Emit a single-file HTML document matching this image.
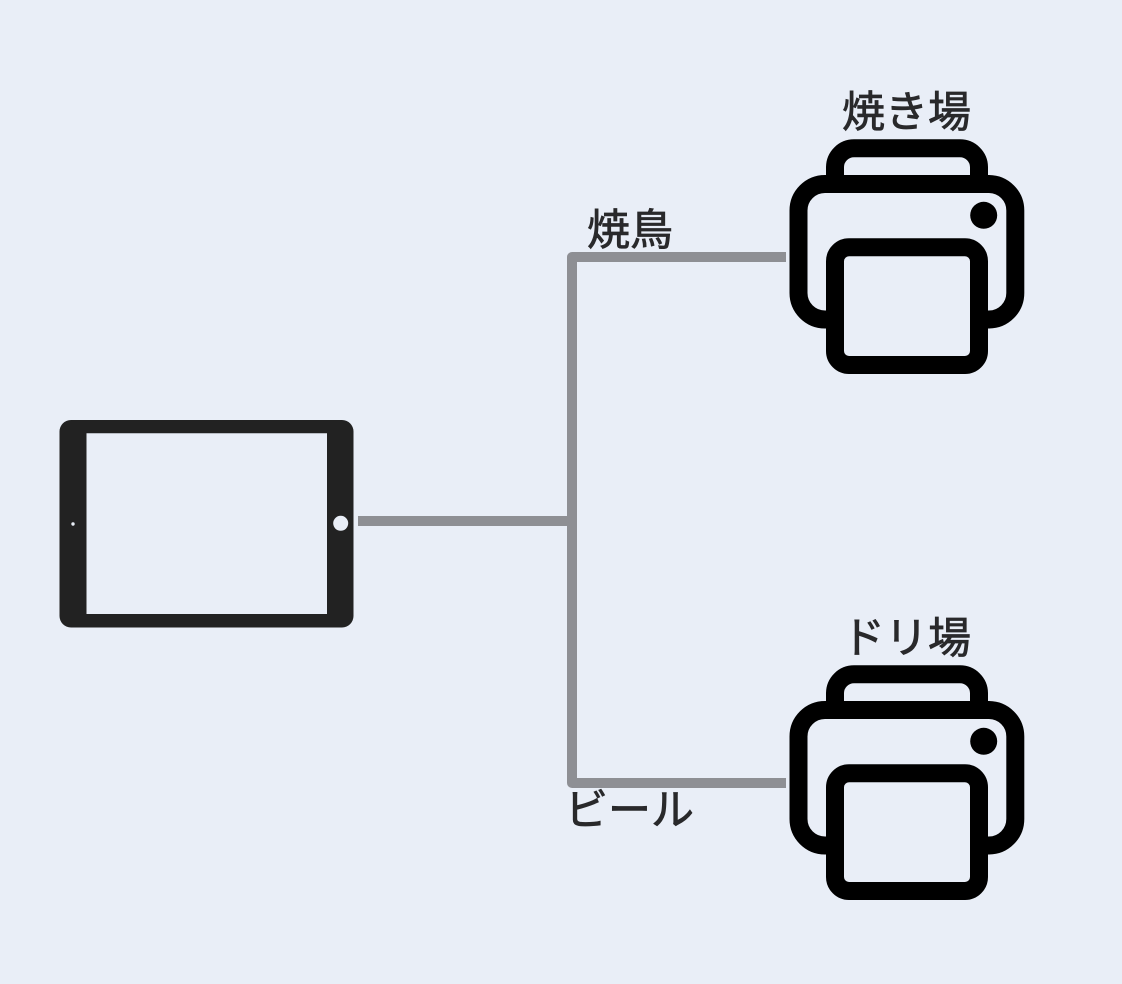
<!DOCTYPE html>
<html>
<head>
<meta charset="utf-8">
<style>
html,body{margin:0;padding:0;background:#e9eef7;}
svg{display:block;}
text{font-family:"Liberation Sans","Noto Sans CJK JP",sans-serif;font-size:43px;fill:#29292b;stroke:#29292b;stroke-width:0.8px;}
</style>
</head>
<body>
<svg width="1122" height="984" viewBox="0 0 1122 984" xmlns="http://www.w3.org/2000/svg">
<rect width="1122" height="984" fill="#e9eef7"/>

<!-- tablet -->
<path fill-rule="evenodd" fill="#222222" d="M71 420H342A11.500 11.500 0 0 1 353.500 431.500V616A11.500 11.500 0 0 1 342 627.500H71A11.500 11.500 0 0 1 59.500 616V431.500A11.500 11.500 0 0 1 71 420ZM86.500 433.300V614H327V433.300Z"/>
<circle cx="340.700" cy="523.300" r="7.500" fill="#e9eef7"/>
<circle cx="73" cy="524" r="1.700" fill="#e9eef7"/>

<!-- connectors -->
<g fill="none" stroke="#8e8f94" stroke-width="10" stroke-linejoin="round">
<path d="M786 257H572V783H786"/>
<path d="M358 521H572"/>
</g>

<!-- printer 1 -->
<g fill="none" stroke="#000" stroke-width="18">
<path d="M835 184V167A19 19 0 0 1 854 148.300H960A19 19 0 0 1 979 167V184"/>
<path d="M835 319.500H825A26.500 26.500 0 0 1 798.500 293V210.500A26.500 26.500 0 0 1 825 184H989A26.500 26.500 0 0 1 1015.300 210.500V293A26.500 26.500 0 0 1 989 319.500H979"/>
<rect x="835" y="247.300" width="144" height="117.700" rx="14"/>
</g>
<circle cx="983.700" cy="215.300" r="13.500" fill="#000"/>

<!-- printer 2 -->
<g transform="translate(0 526)">
<g fill="none" stroke="#000" stroke-width="18">
<path d="M835 184V167A19 19 0 0 1 854 148.300H960A19 19 0 0 1 979 167V184"/>
<path d="M835 319.500H825A26.500 26.500 0 0 1 798.500 293V210.500A26.500 26.500 0 0 1 825 184H989A26.500 26.500 0 0 1 1015.300 210.500V293A26.500 26.500 0 0 1 989 319.500H979"/>
<rect x="835" y="247.300" width="144" height="117.700" rx="14"/>
</g>
<circle cx="983.700" cy="215.300" r="13.500" fill="#000"/>
</g>

<!-- labels -->
<text x="842" y="127">焼き場</text>
<text x="587" y="245">焼鳥</text>
<text x="842" y="653">ドリ場</text>
<text x="565" y="825">ビール</text>
</svg>
</body>
</html>
